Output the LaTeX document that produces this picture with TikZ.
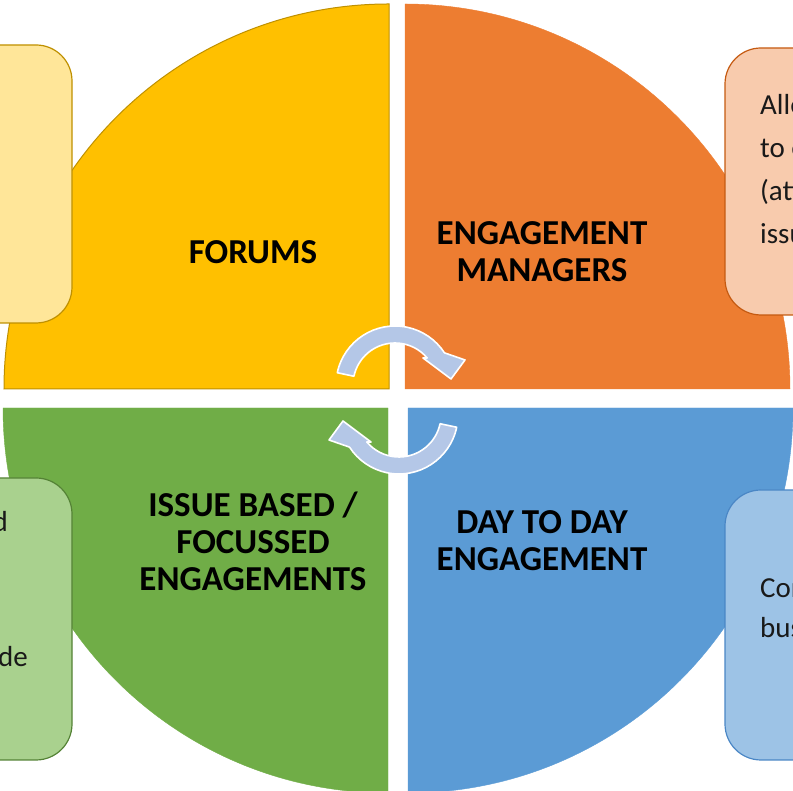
\documentclass[tikz,border=0pt]{standalone}
\usepackage{xcolor}
\usepackage{fontspec}
\setmainfont{Carlito}
\usepackage{tikz}
\usetikzlibrary{calc, positioning}

\definecolor{forumfill}{HTML}{FFC000}
\definecolor{forumline}{HTML}{BF9000}
\definecolor{forumbox}{HTML}{FFE699}
\definecolor{mgrfill}{HTML}{ED7D31}
\definecolor{mgrbox}{HTML}{F8CBAD}
\definecolor{mgrline}{HTML}{C55A11}
\definecolor{issuefill}{HTML}{70AD47}
\definecolor{issuebox}{HTML}{A9D18E}
\definecolor{issueline}{HTML}{548235}
\definecolor{dayfill}{HTML}{5B9BD5}
\definecolor{daybox}{HTML}{9DC3E6}
\definecolor{dayline}{HTML}{4A86C5}
\definecolor{arrowblue}{HTML}{B4C7E7}

\tikzset{
	quadlabel/.style={font=\fontsize{35}{37}\selectfont\bfseries, align=center, text=black},
	boxtext/.style={font=\fontsize{29}{43}\selectfont, text=black!90, inner sep=0pt},
	sidebox/.style={rounded corners=36pt, line width=1.2pt},
	cyclearrow/.pic={
		\filldraw[fill=arrowblue, draw=white, line width=1.6pt, line join=round]
		(168:59) arc[start angle=168, end angle=33, radius=59]
		-- (70,25) -- (56,6) -- (28,27) -- (40:42)
		arc[start angle=40, end angle=168, radius=42] -- cycle;
	}
}

\begin{document}
\begin{tikzpicture}[x=1pt, y=1pt]
	
	\useasboundingbox (0,0) rectangle (793,791);
	\clip (0,0) rectangle (793,791);
	
	\def\rad{385}
	
	%//quarter pieces
	\filldraw[fill=forumfill, draw=forumline, line width=1pt] (389,402) -- ++(-\rad,0) arc[start angle=180, end angle=90, radius=\rad] -- cycle;
	\filldraw[fill=mgrfill, draw=mgrfill] (405,402) -- ++(0,\rad) arc[start angle=90, end angle=0, radius=\rad] -- cycle;
	\filldraw[fill=issuefill, draw=issuefill] (388,383) -- ++(0,-\rad) arc[start angle=270, end angle=180, radius=\rad] -- cycle;
	\filldraw[fill=dayfill, draw=dayfill] (408,383) -- ++(\rad,0) arc[start angle=0, end angle=-90, radius=\rad] -- cycle;
	
	\node[quadlabel] (forums) at (253,539) {FORUMS};
	\node[quadlabel] (managers) at (542,539) {ENGAGEMENT\\MANAGERS};
	\node[quadlabel] (issue) at (253,250) {ISSUE BASED /\\FOCUSSED\\ENGAGEMENTS};
	\node[quadlabel] (daytoday) at (542,250) {DAY TO DAY\\ENGAGEMENT};
	
	%//side boxes
	\filldraw[sidebox, fill=forumbox, draw=forumline] (-160,468) rectangle (72,746);
	\filldraw[sidebox, fill=mgrbox, draw=mgrline] (725,476) rectangle (955,743);
	\filldraw[sidebox, fill=issuebox, draw=issueline] (-160,31) rectangle (72,313);
	\filldraw[sidebox, fill=daybox, draw=dayline] (725,31) rectangle (955,301);
	
	\foreach \i/\txt in {0/Alle, 1/to e, 2/(att, 3/issu}
	\node[boxtext, anchor=base west] (mgr\i) at (760, 676-43*\i) {\txt};
	
	\foreach \i/\txt in {0/Con, 1/bus}
	\node[boxtext, anchor=base west] (day\i) at (760, 193-40*\i) {\txt};
	
	\node[boxtext, anchor=base east] (issue0) at (8,259) {d};
	\node[boxtext, anchor=base east] (issue1) at (28,124) {de};
	
	%//cycle arrows
	\pic at (395,406) {cyclearrow};
	\pic[rotate=180] at (399,376) {cyclearrow};
	
\end{tikzpicture}
\end{document}
